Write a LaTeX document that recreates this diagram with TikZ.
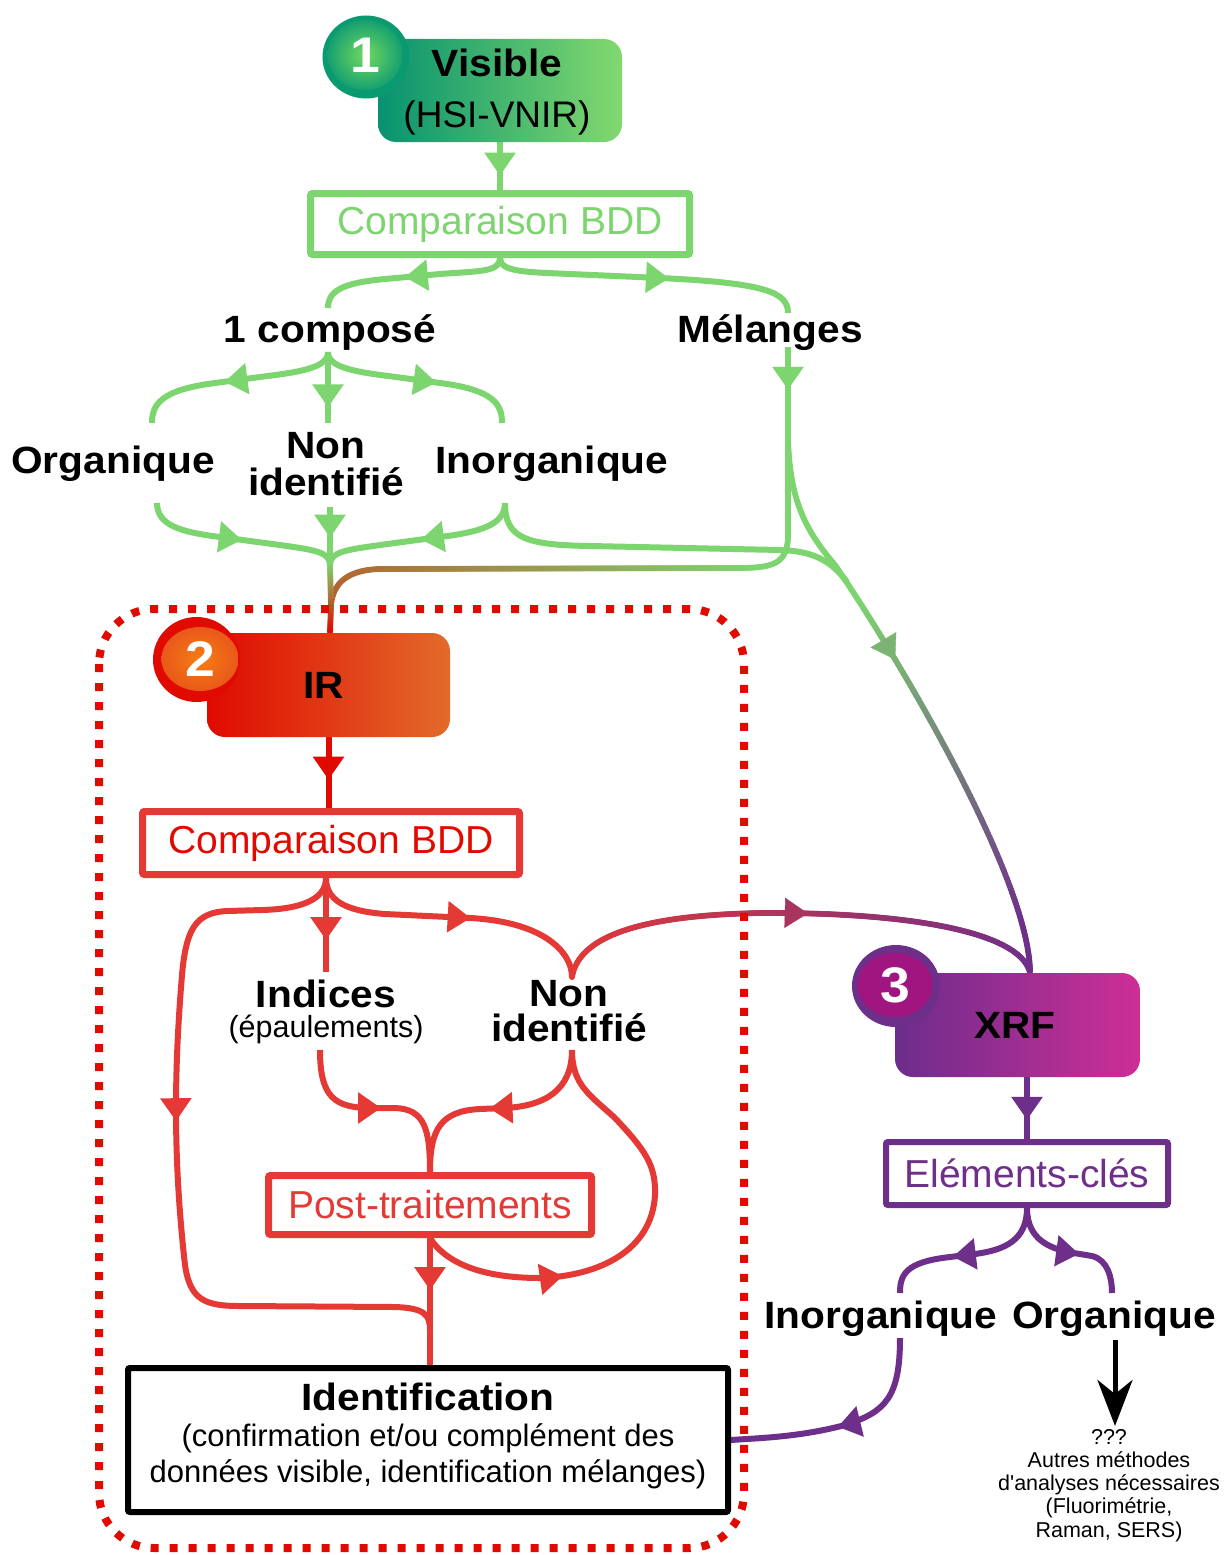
\documentclass[tikz,border=0pt]{standalone}
\usepackage{fontspec}
\setmainfont{Liberation Sans}[BoldFeatures={FakeStretch=1.07}]
\usetikzlibrary{arrows.meta,decorations.markings,shapes.geometric,calc}
\definecolor{G}{HTML}{7DD56F}
\definecolor{Gdark}{HTML}{079270}
\definecolor{Glight}{HTML}{82D96E}
\definecolor{Gring}{HTML}{0A9A70}
\definecolor{Gin}{HTML}{72D95F}
\definecolor{Gedge}{HTML}{16A070}
\definecolor{Garr}{HTML}{7BB472}
\definecolor{R}{HTML}{E53935}
\definecolor{Rd}{HTML}{E00A00}
\definecolor{Ror}{HTML}{E26A2A}
\definecolor{Rin}{HTML}{F57E14}
\definecolor{Redge}{HTML}{E9581A}
\definecolor{Brn}{HTML}{B5602E}
\definecolor{RParr}{HTML}{A83460}
\definecolor{P}{HTML}{6E2F8A}
\definecolor{Pl}{HTML}{6C2D8C}
\definecolor{Pm}{HTML}{CE2E96}
\definecolor{Pin}{HTML}{A0157F}
\newcommand\fbl{\bfseries\fontsize{38}{38}\selectfont}
\newcommand\fnl{\fontsize{39}{39}\selectfont}
\newcommand\fsm{\fontsize{31}{31}\selectfont}
\newcommand\fep{\fontsize{30.5}{30.5}\selectfont}
\newcommand\fsmall{\fontsize{21.5}{23}\selectfont}
\newcommand\fdig{\bfseries\fontsize{50}{50}\selectfont}
\newcommand\mlines[2]{\vtop{\baselineskip=#1\relax\lineskiplimit=-100pt\halign{\hfil##\hfil\cr#2\crcr}}}
\pgfdeclarelayer{bg}\pgfdeclarelayer{lines}\pgfsetlayers{bg,lines,main}
\tikzset{
 gl/.style={color=G, line width=6pt},
 rl/.style={color=R, line width=6pt},
 pl/.style={color=P, line width=6pt},
 ma/.style={postaction={decorate,decoration={markings,mark=at position #1 with {\arrow{Triangle[length=23pt,width=30pt]}}}}},
 mac/.style 2 args={postaction={decorate,decoration={markings,mark=at position #1 with {\arrow{Triangle[length=23pt,width=30pt,color=#2]}}}}},
 grad/.style n args={4}{postaction={decorate,decoration={markings,
   mark=between positions 0 and 1 step 1.5pt with {\pgfmathsetmacro\gp{max(0,min(100,100*(\pgfkeysvalueof{/pgf/decoration/mark info/distance from start}/\pgfdecoratedpathlength-#3)/(#4-#3)))}\fill[#2!\gp!#1] (0,0) circle (3pt);}}}},
 lab/.style={anchor=base, inner sep=0pt, font=\fbl},
 shbox/.style={rounded corners=18pt, inner sep=0pt},
 tbox/.style={line width=7pt, fill=white, font=\fnl, inner sep=0pt, rounded corners=2pt},
 badge/.style={ellipse, inner sep=0pt},
}
\begin{document}
\begin{tikzpicture}[x=1pt,y=-1pt]
\begin{pgfonlayer}{bg}
\fill[white] (0,0) rectangle (1227,1555);
\end{pgfonlayer}
\useasboundingbox (0,0) rectangle (1227,1555);

% ---------- stage 1 : visible
\node[shbox, left color=Gdark, right color=Glight, minimum width=244, minimum height=103] (vis) at (500,90.5) {};
\node[anchor=base, inner sep=0pt] (visT) at (497,77) {\mlines{51pt}{{\fbl Visible}\cr{\fontsize{37}{37}\selectfont (HSI-VNIR)}}};
\node[badge, fill=Gring, minimum width=87, minimum height=83] (b1) at (366,57) {};
\node[badge, inner color=Gin, outer color=Gedge, minimum width=75, minimum height=70, font=\fdig, text=white] (b1n) at (365,55) {1};
\node[tbox, draw=G, text=G, minimum width=379, minimum height=61] (cmp1) at (500,224) {Comparaison BDD};
\node[lab] (comp1) at (330,342) {1 composé};
\node[lab] (mel) at (770,342) {Mélanges};
\node[lab] (org) at (113,473) {Organique};
\node[lab] (nid1) at (326,458) {\mlines{37pt}{Non\cr identifié}};
\node[lab] (inorg1) at (552,473) {Inorganique};

% ---------- stage 2 : IR
\node[shbox, left color=Rd, right color=Ror, minimum width=243, minimum height=104, font=\fbl] (ir) at (328.5,685) {\hspace*{-10pt}IR};
\node[badge, fill=Rd, minimum width=87, minimum height=85] (b2) at (196.5,659.5) {};
\node[badge, inner color=Rin, outer color=Redge, minimum width=77, minimum height=64, font=\fdig, text=white] (b2n) at (200,659) {2};
\node[tbox, draw=R, text=Rd, minimum width=377, minimum height=63] (cmp2) at (331,843) {Comparaison BDD};
\node[lab] (ind) at (326,1007) {Indices};
\node[anchor=base, inner sep=0pt, font=\fep] (epa) at (326,1037) {(épaulements)};
\node[lab] (nid2) at (569,1006) {\mlines{35pt}{Non\cr identifié}};
\node[tbox, draw=R, text=R, minimum width=323, minimum height=59] (post) at (430,1205) {Post-traitements};
\node[tbox, draw=black, line width=6pt, minimum width=600, minimum height=144] (ident) at (428,1440) {};
\node[anchor=base, inner sep=0pt] (identT) at (428,1410) {\mlines{36pt}{{\fbl Identification}\cr{\fsm (confirmation et/ou complément des}\cr{\fsm données visible, identification mélanges)}}};

% ---------- stage 3 : XRF
\node[shbox, left color=Pl, right color=Pm, minimum width=245, minimum height=104, font=\fbl] (xrf) at (1017.5,1025) {\hspace*{-5pt}XRF};
\node[badge, fill=P, minimum width=88, minimum height=82] (b3) at (896,986) {};
\node[badge, fill=Pin, minimum width=75, minimum height=64, font=\fdig, text=white] (b3n) at (895,985) {3};
\node[tbox, draw=P, text=P, line width=6pt, minimum width=282, minimum height=63] (elem) at (1027,1173.5) {Eléments-clés};
\node[lab] (inorg3) at (881,1328) {Inorganique};
\node[lab] (org3) at (1114,1328) {Organique};
\node[anchor=base, inner sep=0pt, font=\fsmall] (autres) at (1109,1444) {\mlines{23.3pt}{???\cr Autres méthodes\cr d\textquotesingle analyses nécessaires\cr (Fluorimétrie,\cr Raman, SERS)}};

% junction coordinates
\coordinate (ms) at (788,440);
\coordinate (m1) at (330,565);
\coordinate (j2) at (331,605);
\coordinate (xt) at ($(xrf.north)+(12.5,0)$);
\coordinate (s2) at ($(cmp2.south)+(-5,0)$);
\coordinate (j4) at (430,1330);

\begin{pgfonlayer}{lines}
% green
\draw[gl, ma=0.7] (vis.south) -- (cmp1.north);
\draw[gl, ma=0.53] (cmp1.south) .. controls +(0,14) and (480,271) .. (440,274) -- (385,279) .. controls (340,283) and ($(comp1.base)+(-2,-50)$) .. ($(comp1.base)+(-2,-34)$);
\draw[gl, ma=0.57] (cmp1.south) .. controls +(0,14) and (525,272) .. (570,274) -- (660,278) .. controls (765,283) and ($(mel.base)+(18,-50)$) .. ($(mel.base)+(18,-29)$);
\draw[gl, ma=0.46] ($(mel.base)+(18,5)$) -- (ms);
\draw[gl, ma=0.55] ($(comp1.base)+(-2,10)$) .. controls +(0,16) and (300,372) .. (260,377) -- (215,383) .. controls (160,390) and ($(org.base)+(39,-68)$) .. ($(org.base)+(39,-50)$);
\draw[gl, ma=0.78] ($(comp1.base)+(-2,10)$) -- ($(nid1.base)+(2,-35)$);
\draw[gl, ma=0.58] ($(comp1.base)+(-2,10)$) .. controls +(0,16) and (356,372) .. (396,377) -- (440,383) .. controls (495,390) and ($(inorg1.base)+(-50,-68)$) .. ($(inorg1.base)+(-50,-50)$);
\draw[gl, ma=0.51] ($(org.base)+(44,30)$) .. controls +(0,22) and (180,532) .. (220,537) -- (280,545) .. controls (315,550) and (330,552) .. (m1);
\draw[gl, ma=0.53] ($(nid1.base)+(4,49)$) -- (m1);
\draw[gl, ma=0.5] ($(inorg1.base)+(-47,30)$) .. controls +(0,22) and (480,532) .. (440,537) -- (380,545) .. controls (345,550) and (330,552) .. (m1);
\draw[gl] ($(inorg1.base)+(-47,30)$) .. controls +(0,35) and (525,545) .. (590,546) -- (780,550) .. controls (815,551) and (832,562) .. (847,582);
\path[grad={G}{Brn}{0.25}{1}] (ms) -- (788,535) .. controls (788,566) and (770,568) .. (735,568) -- (380,569) .. controls (345,570) and (333,585) .. (j2);
\path[grad={G}{Brn}{0}{1}] (m1) -- (j2);
\path[grad={Brn}{Rd}{0}{1}] (j2) -- (m1 |- ir.north);
\path[grad={G}{P}{0.3}{0.92}, mac={0.42}{Garr}] (ms) .. controls (790,500) and (805,530) .. (835,565) .. controls (900,660) and (1030,880) .. (xt);
% red
\draw[color=Rd, line width=6pt, ma=0.6] (ir.south) -- (ir.south |- cmp2.north);
\draw[rl, ma=0.45] (s2) .. controls +(0,22) and (300,909) .. (262,910) -- (228,911) .. controls (195,912) and (186,930) .. (182,975) .. controls (175,1060) and (172,1150) .. (185,1265) .. controls (190,1300) and (205,1306) .. (240,1306) -- (395,1307) .. controls (425,1308) and (430,1315) .. (j4);
\draw[rl, ma=0.66] (s2) -- ($(ind.base)+(0,-35)$);
\draw[rl, ma=0.56] (s2) .. controls +(0,22) and (345,911) .. (385,914) -- (470,918) .. controls (545,922) and ($(nid2.base)+(3,-53)$) .. ($(nid2.base)+(3,-29)$);
\path[grad={R}{P}{0}{1}, mac={0.52}{RParr}] ($(nid2.base)+(3,-29)$) .. controls (580,930) and (660,915) .. (760,913) .. controls (900,912) and (1020,930) .. (xt);
\draw[rl, ma=0.51] ($(epa.base)+(-6,13)$) .. controls +(0,48) and (335,1108) .. (372,1108) -- (395,1108) .. controls (425,1109) and (430,1130) .. (post.north);
\draw[rl, ma=0.53] ($(nid2.base)+(3,44)$) .. controls +(0,40) and (545,1106) .. (505,1108) -- (480,1109) .. controls (440,1111) and (430,1130) .. (post.north);
\draw[rl, ma=0.32] (post.south) .. controls (445,1262) and (480,1278) .. (540,1278) .. controls (600,1276) and (652,1250) .. (655,1195) .. controls (656,1165) and (645,1150) .. (615,1118) .. controls (590,1095) and (572,1085) .. ($(nid2.base)+(3,44)$);
\draw[rl, ma=0.41] (post.south) -- (post.south |- ident.north);
% purple
\draw[pl, ma=0.69] (elem.north |- xrf.south) -- (elem.north);
\draw[pl, ma=0.58] (elem.south) .. controls +(0,32) and (1005,1250) .. (975,1254) -- (950,1257) .. controls (905,1262) and ($(inorg3.base)+(19,-53)$) .. ($(inorg3.base)+(19,-35)$);
\draw[pl, ma=0.57] (elem.south) .. controls +(0,32) and (1050,1250) .. (1080,1254) -- (1092,1256) .. controls (1108,1260) and ($(org3.base)+(-2,-50)$) .. ($(org3.base)+(-2,-35)$);
\draw[pl, ma=0.53] ($(inorg3.base)+(19,10)$) .. controls +(0,60) and (885,1412) .. (845,1425) .. controls (800,1437) and (760,1438) .. (ident.east);
\draw[line width=5pt, -{Stealth[length=46pt,width=35pt,inset=14pt]}] ($(org3.base)+(1,12)$) -- ($(org3.base)+(1,98)$);
\end{pgfonlayer}

% dotted frame around stage 2
\draw[color=Rd, line width=8pt, dash pattern=on 8pt off 11pt, rounded corners=55pt] (99,609) rectangle (744,1548);
\end{tikzpicture}
\end{document}
